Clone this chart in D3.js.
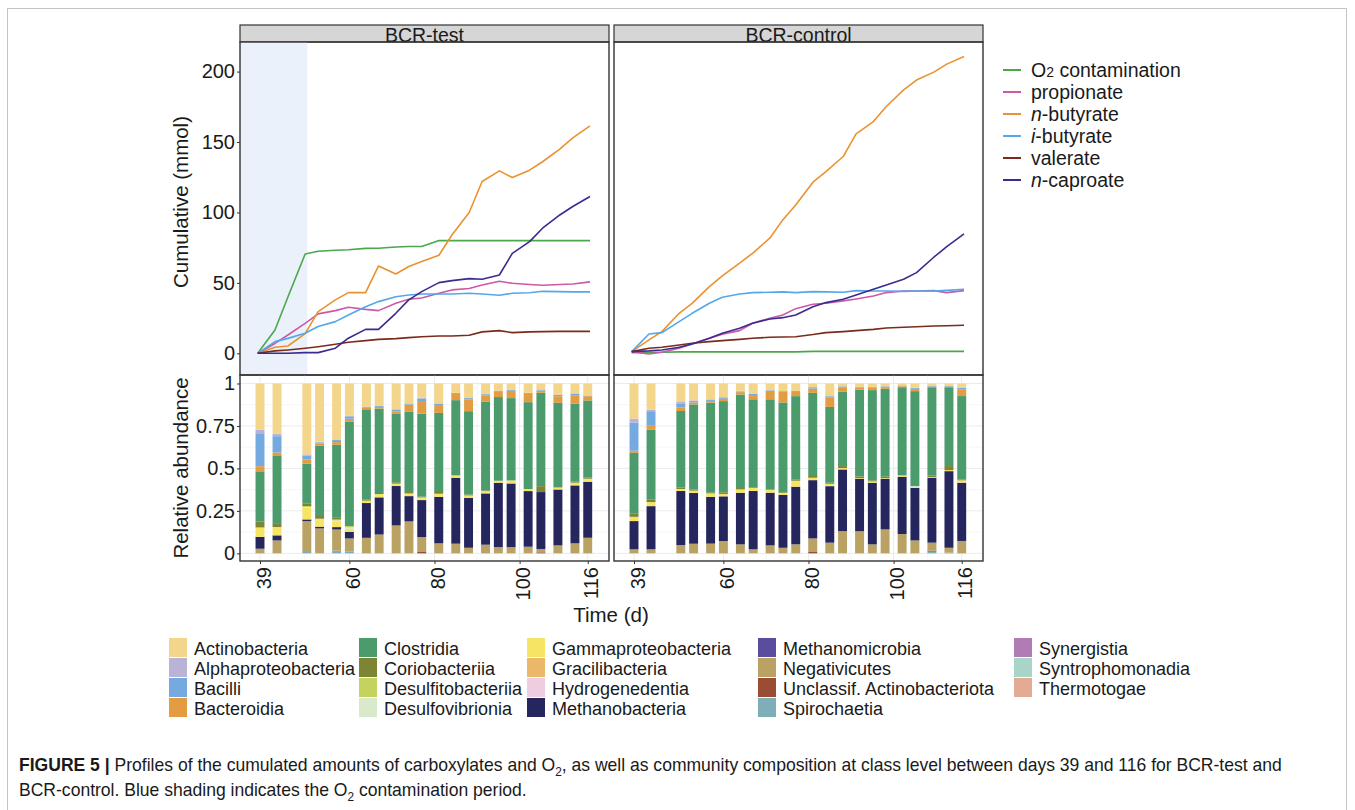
<!DOCTYPE html>
<html>
<head>
<meta charset="utf-8">
<script src="https://cdn.jsdelivr.net/npm/d3@7"></script>
<style>
  body { margin: 0; background: #fff; }
  text { font-family: "Liberation Sans", Arial, sans-serif; fill: #1a1a1a; }
</style>
</head>
<body>
<svg id="chart" width="1355" height="810"></svg>
<script>
// ---- cumulative amounts (mmol), sampled on these days ----
const lineDays = [39, 43, 46, 50, 53, 57, 60, 64, 67, 71, 74, 77, 81, 84, 88, 91, 95, 98, 102, 105, 109, 112, 116];

const o2Test   = [0, 16.6, 40, 70.5, 72.5, 73.2, 73.5, 74.5, 74.6, 75.5, 75.8, 75.8, 80, 80, 80, 80, 80, 80, 80, 80, 80, 80, 80];
const propTest = [0, 7, 13, 21.3, 28, 30.3, 32.7, 31.2, 30.3, 35.5, 38.4, 39.3, 42.6, 45, 46, 48.5, 51.1, 49.7, 48.8, 48.3, 48.8, 49.2, 50.7];
const nbutTest = [0, 4.3, 5.2, 14, 29.6, 37.9, 43.1, 43.1, 62, 56.3, 61.6, 65.1, 69.6, 84, 100, 122, 129.5, 124.8, 130, 136, 145, 153, 161.5];
const ibutTest = [0, 8.3, 10.6, 14.2, 19, 22.5, 27.2, 33, 36.7, 40.2, 41.4, 42.1, 42.1, 42.1, 42.6, 42.1, 41.2, 42.6, 43, 44, 43.8, 43.6, 43.6];
const valTest  = [0, 1.7, 2.4, 3.6, 4.7, 6.4, 7.8, 9, 9.9, 10.4, 11.1, 11.8, 12.3, 12.3, 12.8, 15.2, 16.1, 14.7, 15.2, 15.4, 15.6, 15.6, 15.6];
const capTest  = [0, 0, 0, 0.5, 0.5, 3.6, 10.7, 17, 17, 28.4, 37.9, 43.8, 50.2, 51.6, 53, 52.6, 55.6, 71, 79.3, 88.8, 98.2, 104.2, 111.3];

const o2Ctrl   = [0.5, 0.6, 0.8, 1, 1, 1, 1, 1, 1, 1, 1, 1, 1.4, 1.4, 1.4, 1.4, 1.4, 1.4, 1.4, 1.4, 1.4, 1.4, 1.4];
const propCtrl = [1.2, -0.5, 0.7, 3.6, 6.6, 10.7, 13.5, 16.1, 21.3, 24.9, 27.2, 31.7, 34.8, 35.5, 37.2, 38.6, 40.7, 43.1, 44.2, 44.2, 44.5, 43.1, 44.5];
const nbutCtrl = [1.2, 9.5, 15.4, 28.4, 35.5, 47.3, 55, 64, 71, 81.7, 94.7, 105.3, 121.5, 129, 139.7, 155.8, 164.5, 175.2, 187, 194, 199.6, 205.3, 210.7];
const ibutCtrl = [1.2, 13.7, 14.7, 22.5, 28.4, 35.5, 39.8, 42.1, 43.1, 43.3, 43.6, 43.1, 43.8, 43.6, 43.3, 44.5, 44.2, 44.2, 44, 44.2, 44.2, 44.7, 45.5];
const valCtrl  = [1.2, 3.6, 4.3, 5.9, 7.1, 8.3, 9, 9.9, 10.7, 11.4, 11.6, 11.8, 13.3, 14.7, 15.4, 16.1, 17, 18, 18.5, 18.9, 19.4, 19.6, 19.9];
const capCtrl  = [1.2, 1.7, 2.4, 4.3, 6.6, 10.7, 14.2, 17.8, 21.3, 24.4, 25.3, 27.2, 33.1, 36, 38.4, 41.4, 45.5, 48.5, 52.6, 57.3, 68.2, 75.8, 84.8];

const seriesNames = ['O2 contamination', 'propionate', 'n-butyrate', 'i-butyrate', 'valerate', 'n-caproate'];
const seriesColors = ['#4aa84a', '#cc58aa', '#ea922e', '#52a8ea', '#7b2b1a', '#3b2a8f'];

const o2PeriodEnd = 50.5;

// ---- relative abundance, sampled on these days ----
const barDays = [39, 43, 50, 53, 57, 60, 64, 67, 71, 74, 77, 81, 85, 88, 92, 95, 98, 102, 105, 109, 113, 116];

const classNames = ['Actinobacteria', 'Alphaproteobacteria', 'Bacilli', 'Bacteroidia', 'Clostridia', 'Coriobacteriia',
  'Desulfitobacteriia', 'Desulfovibrionia', 'Gammaproteobacteria', 'Gracilibacteria', 'Hydrogenedentia', 'Methanobacteria',
  'Methanomicrobia', 'Negativicutes', 'Unclassif. Actinobacteriota', 'Spirochaetia', 'Synergistia', 'Syntrophomonadia', 'Thermotogae'];
const classColors = ['#f3d58c', '#b9b3d8', '#74aae0', '#e39c42', '#4b9b6c', '#7d8534',
  '#c3d35e', '#d9e9cb', '#f6e465', '#ebb86a', '#efcde0', '#26265f',
  '#5b4d9d', '#b9a264', '#9b4c35', '#7eafb9', '#b17bb5', '#a9d5c8', '#e3aa94'];

const actinoTest = [0.27, 0.296, 0.418, 0.343, 0.33, 0.19, 0.137, 0.133, 0.152, 0.118, 0.085, 0.118, 0.055, 0.086, 0.063, 0.043, 0.037, 0.055, 0.039, 0.067, 0.059, 0.071];
const alphaTest  = [0.02, 0.014, 0.006, 0.004, 0.004, 0.004, 0, 0, 0.004, 0, 0.004, 0, 0, 0, 0, 0, 0, 0, 0, 0, 0, 0];
const bacilliTest = [0.192, 0.096, 0.023, 0.006, 0.012, 0.014, 0.006, 0.006, 0.01, 0.006, 0.014, 0.009, 0.006, 0.008, 0.006, 0.006, 0.006, 0.006, 0.004, 0.008, 0.01, 0.004];
const bacteroTest = [0.03, 0.021, 0.026, 0.012, 0.016, 0.016, 0.01, 0.01, 0.014, 0.043, 0.075, 0.046, 0.037, 0.069, 0.039, 0.031, 0.043, 0.049, 0.012, 0.039, 0.049, 0.025];
const clostTest  = [0.292, 0.395, 0.233, 0.415, 0.431, 0.617, 0.535, 0.502, 0.404, 0.472, 0.489, 0.46, 0.443, 0.49, 0.521, 0.493, 0.485, 0.512, 0.553, 0.498, 0.46, 0.455];
const corioTest  = [0.035, 0.023, 0.016, 0.016, 0.01, 0, 0.006, 0.006, 0.008, 0.008, 0.004, 0.016, 0, 0.006, 0.004, 0, 0, 0, 0.035, 0, 0.006, 0.006];
const dsfTest    = [0, 0, 0.006, 0.004, 0.005, 0.008, 0, 0, 0, 0, 0.002, 0, 0, 0, 0, 0, 0, 0, 0, 0, 0, 0];
const dsvTest    = [0, 0, 0.004, 0.004, 0.005, 0.008, 0, 0, 0, 0, 0, 0, 0, 0, 0, 0, 0, 0, 0, 0, 0, 0];
const gammaTest  = [0.055, 0.049, 0.069, 0.039, 0.035, 0.018, 0.014, 0.02, 0.014, 0.016, 0.014, 0.018, 0.014, 0.014, 0.014, 0.012, 0.018, 0.012, 0, 0.012, 0.016, 0.018];
const methTest   = [0.069, 0.03, 0.01, 0.01, 0.014, 0.039, 0.206, 0.221, 0.233, 0.149, 0.218, 0.274, 0.388, 0.294, 0.302, 0.379, 0.375, 0.328, 0.337, 0.329, 0.341, 0.33];
const negTest    = [0.027, 0.076, 0.182, 0.147, 0.125, 0.078, 0.092, 0.112, 0.165, 0.188, 0.088, 0.059, 0.057, 0.033, 0.051, 0.037, 0.037, 0.039, 0.02, 0.047, 0.059, 0.092];
const uncTest    = [0, 0, 0, 0, 0, 0, 0, 0, 0, 0, 0.008, 0, 0, 0, 0, 0, 0, 0, 0.006, 0, 0, 0];
const spiroTest  = [0, 0, 0.008, 0, 0.016, 0.01, 0, 0, 0, 0, 0, 0, 0, 0, 0, 0, 0, 0, 0, 0, 0, 0];

const actinoCtrl = [0.207, 0.155, 0.109, 0.1, 0.092, 0.08, 0.043, 0.06, 0.04, 0.045, 0.043, 0.022, 0.075, 0.017, 0.02, 0.021, 0.017, 0.012, 0.025, 0.014, 0.014, 0.025];
const alphaCtrl  = [0.024, 0.008, 0.008, 0.004, 0.004, 0.004, 0.004, 0, 0, 0, 0, 0, 0, 0, 0, 0, 0, 0, 0, 0, 0, 0];
const bacilliCtrl = [0.165, 0.086, 0.025, 0.008, 0.006, 0.006, 0.004, 0.008, 0.004, 0.004, 0.006, 0.008, 0.006, 0.008, 0.004, 0.004, 0.004, 0.004, 0.006, 0.004, 0.004, 0.01];
const bacteroCtrl = [0.012, 0.022, 0.02, 0.012, 0.01, 0.014, 0.014, 0.025, 0.049, 0.063, 0.025, 0.025, 0.057, 0.022, 0.012, 0.014, 0.01, 0.006, 0.014, 0.004, 0.004, 0.039];
const clostCtrl  = [0.359, 0.411, 0.451, 0.504, 0.525, 0.539, 0.551, 0.518, 0.528, 0.531, 0.489, 0.484, 0.447, 0.439, 0.514, 0.532, 0.518, 0.519, 0.559, 0.519, 0.464, 0.492];
const corioCtrl  = [0.018, 0.016, 0.008, 0.006, 0.006, 0.01, 0.008, 0.004, 0.004, 0.004, 0.006, 0.016, 0.006, 0.012, 0.01, 0.006, 0.008, 0, 0, 0.01, 0.024, 0.004];
const dsvCtrl    = [0, 0, 0, 0, 0, 0, 0, 0, 0, 0, 0, 0, 0, 0, 0, 0, 0, 0, 0.01, 0, 0, 0];
const gammaCtrl  = [0.025, 0.024, 0.012, 0.014, 0.02, 0.014, 0.02, 0.018, 0.018, 0.012, 0.035, 0.014, 0.014, 0.008, 0.004, 0.008, 0.004, 0.008, 0, 0.004, 0.006, 0.014];
const methCtrl   = [0.166, 0.254, 0.318, 0.3, 0.274, 0.264, 0.304, 0.343, 0.31, 0.312, 0.337, 0.343, 0.333, 0.363, 0.31, 0.363, 0.298, 0.337, 0.31, 0.382, 0.451, 0.343];
const negCtrl    = [0.024, 0.024, 0.049, 0.057, 0.057, 0.073, 0.053, 0.024, 0.047, 0.033, 0.053, 0.08, 0.063, 0.131, 0.131, 0.053, 0.141, 0.114, 0.076, 0.047, 0.029, 0.073];
const uncCtrl    = [0, 0, 0, 0, 0, 0, 0, 0, 0, 0, 0, 0.008, 0, 0, 0, 0, 0, 0, 0, 0.006, 0, 0];
const spiroCtrl  = [0, 0, 0, 0, 0, 0, 0, 0, 0, 0, 0, 0, 0, 0, 0, 0, 0, 0, 0, 0.01, 0.004, 0];

const xTicks = [39, 60, 80, 100, 116];
const yTicksTop = [0, 50, 100, 150, 200];
const yTicksBar = [0, 0.25, 0.5, 0.75, 1];

// ---- build tables ----
const testSeries = [o2Test, propTest, nbutTest, ibutTest, valTest, capTest];
const ctrlSeries = [o2Ctrl, propCtrl, nbutCtrl, ibutCtrl, valCtrl, capCtrl];

const testClasses = {
  'Actinobacteria': actinoTest, 'Alphaproteobacteria': alphaTest, 'Bacilli': bacilliTest, 'Bacteroidia': bacteroTest,
  'Clostridia': clostTest, 'Coriobacteriia': corioTest, 'Desulfitobacteriia': dsfTest, 'Desulfovibrionia': dsvTest,
  'Gammaproteobacteria': gammaTest, 'Methanobacteria': methTest, 'Negativicutes': negTest,
  'Unclassif. Actinobacteriota': uncTest, 'Spirochaetia': spiroTest
};
const ctrlClasses = {
  'Actinobacteria': actinoCtrl, 'Alphaproteobacteria': alphaCtrl, 'Bacilli': bacilliCtrl, 'Bacteroidia': bacteroCtrl,
  'Clostridia': clostCtrl, 'Coriobacteriia': corioCtrl, 'Desulfovibrionia': dsvCtrl,
  'Gammaproteobacteria': gammaCtrl, 'Methanobacteria': methCtrl, 'Negativicutes': negCtrl,
  'Unclassif. Actinobacteriota': uncCtrl, 'Spirochaetia': spiroCtrl
};

const classColor = d3.scaleOrdinal().domain(classNames).range(classColors);

const svg = d3.select('#chart');

// outer frame
svg.append('rect')
  .attr('x', 7.5).attr('y', 8.5)
  .attr('width', 1339).attr('height', 830)
  .attr('fill', 'none').attr('stroke', '#c4c4c4');

const stripTop = 25, stripBottom = 42, topBottom = 375, barBottom = 561;

const yTop = d3.scaleLinear().domain([-15.4, 221]).range([topBottom, stripBottom]);
const yBar = d3.scaleLinear().domain([-0.045, 1.05]).range([barBottom, topBottom]);

const panels = [
  { name: 'BCR-test', x0: 240, x1: 609, series: testSeries, classes: testClasses, shade: true },
  { name: 'BCR-control', x0: 614, x1: 983, series: ctrlSeries, classes: ctrlClasses, shade: false }
];

panels.forEach((p, pi) => {
  const xTop = d3.scaleLinear().domain([34.9, 120.4]).range([p.x0, p.x1]);
  const xBar = d3.scaleLinear().domain([34.3, 121]).range([p.x0, p.x1]);

  // strip
  svg.append('rect')
    .attr('x', p.x0).attr('y', stripTop)
    .attr('width', p.x1 - p.x0).attr('height', stripBottom - stripTop)
    .attr('fill', '#d6d6d6').attr('stroke', '#333').attr('stroke-width', 1.2);
  svg.append('text')
    .attr('x', (p.x0 + p.x1) / 2).attr('y', 41.5)
    .attr('text-anchor', 'middle')
    .attr('font-size', 19.5)
    .text(p.name);

  // ---- top panel: cumulative lines ----
  const clipId = 'clip' + pi;
  svg.append('clipPath').attr('id', clipId)
    .append('rect')
    .attr('x', p.x0).attr('y', stripBottom)
    .attr('width', p.x1 - p.x0).attr('height', topBottom - stripBottom);

  const top = svg.append('g').attr('clip-path', `url(#${clipId})`);

  if (p.shade) {
    top.append('rect')
      .attr('x', p.x0).attr('y', stripBottom)
      .attr('width', xTop(o2PeriodEnd) - p.x0)
      .attr('height', topBottom - stripBottom)
      .attr('fill', '#eaf1fb');
  }

  const line = d3.line()
    .x((d, i) => xTop(lineDays[i]))
    .y(d => yTop(d));

  top.selectAll('path.series')
    .data(p.series)
    .join('path')
    .attr('class', 'series')
    .attr('d', d => line(d))
    .attr('fill', 'none')
    .attr('stroke', (d, i) => seriesColors[i])
    .attr('stroke-width', 1.6)
    .attr('stroke-linejoin', 'round');

  svg.append('rect')
    .attr('x', p.x0).attr('y', stripBottom)
    .attr('width', p.x1 - p.x0).attr('height', topBottom - stripBottom)
    .attr('fill', 'none').attr('stroke', '#333').attr('stroke-width', 1.4);

  // ---- bottom panel: stacked bars ----
  const bottom = svg.append('g');

  const grid = bottom.append('g');
  const minorY = [0.125, 0.375, 0.625, 0.875];
  const minorX = [49.5, 70, 90, 108];
  grid.selectAll('line.my').data(minorY).join('line')
    .attr('x1', p.x0).attr('x2', p.x1)
    .attr('y1', d => yBar(d)).attr('y2', d => yBar(d))
    .attr('stroke', '#f4f4f4').attr('stroke-width', 0.8);
  grid.selectAll('line.mx').data(minorX).join('line')
    .attr('y1', topBottom).attr('y2', barBottom)
    .attr('x1', d => xBar(d)).attr('x2', d => xBar(d))
    .attr('stroke', '#f4f4f4').attr('stroke-width', 0.8);
  grid.selectAll('line.gy').data(yTicksBar).join('line')
    .attr('x1', p.x0).attr('x2', p.x1)
    .attr('y1', d => yBar(d)).attr('y2', d => yBar(d))
    .attr('stroke', '#ebebeb').attr('stroke-width', 1);
  grid.selectAll('line.gx').data(xTicks).join('line')
    .attr('y1', topBottom).attr('y2', barBottom)
    .attr('x1', d => xBar(d)).attr('x2', d => xBar(d))
    .attr('stroke', '#ebebeb').attr('stroke-width', 1);

  const keys = classNames.filter(c => p.classes[c]).reverse();
  const rows = barDays.map((day, i) => {
    const r = { day };
    keys.forEach(k => { r[k] = p.classes[k][i]; });
    return r;
  });
  const stack = d3.stack().keys(keys).offset(d3.stackOffsetExpand);
  const layers = stack(rows);
  const bw = 2.1 * (xBar(1) - xBar(0));

  bottom.selectAll('g.layer')
    .data(layers)
    .join('g')
    .attr('class', 'layer')
    .attr('fill', d => classColor(d.key))
    .selectAll('rect')
    .data(d => d)
    .join('rect')
    .attr('x', d => xBar(d.data.day) - bw / 2)
    .attr('width', bw)
    .attr('y', d => yBar(d[1]))
    .attr('height', d => Math.max(0, yBar(d[0]) - yBar(d[1])));

  svg.append('rect')
    .attr('x', p.x0).attr('y', topBottom)
    .attr('width', p.x1 - p.x0).attr('height', barBottom - topBottom)
    .attr('fill', 'none').attr('stroke', '#333').attr('stroke-width', 1.4);

  // x axis
  const xAxis = svg.append('g')
    .attr('transform', `translate(0, ${barBottom})`)
    .call(d3.axisBottom(xBar).tickValues(xTicks).tickSize(3).tickFormat(d3.format('d')));
  xAxis.select('.domain').remove();
  xAxis.selectAll('line').attr('stroke', '#333');
  xAxis.selectAll('text')
    .attr('transform', 'rotate(-90)')
    .attr('x', -6).attr('y', 3).attr('dy', '0.35em')
    .attr('text-anchor', 'end')
    .attr('font-size', 20)
    .attr('font-family', '"Liberation Sans", Arial, sans-serif')
    .attr('fill', '#1a1a1a');

  // y axes (left panel only)
  if (pi === 0) {
    const ya = svg.append('g')
      .attr('transform', `translate(${p.x0}, 0)`)
      .call(d3.axisLeft(yTop).tickValues(yTicksTop).tickSize(3).tickPadding(2));
    const yb = svg.append('g')
      .attr('transform', `translate(${p.x0}, 0)`)
      .call(d3.axisLeft(yBar).tickValues(yTicksBar).tickSize(3).tickPadding(2).tickFormat(d => String(d)));
    [ya, yb].forEach(g => {
      g.select('.domain').remove();
      g.selectAll('line').attr('stroke', '#333');
      g.selectAll('text')
        .attr('font-size', 20)
        .attr('font-family', '"Liberation Sans", Arial, sans-serif')
        .attr('fill', '#1a1a1a');
    });
  }
});

// axis titles
svg.append('text')
  .attr('transform', 'translate(188, 202) rotate(-90)')
  .attr('text-anchor', 'middle')
  .attr('font-size', 20.5)
  .text('Cumulative (mmol)');
svg.append('text')
  .attr('transform', 'translate(188, 468) rotate(-90)')
  .attr('text-anchor', 'middle')
  .attr('font-size', 20.5)
  .text('Relative abundance');
svg.append('text')
  .attr('x', 611).attr('y', 622)
  .attr('text-anchor', 'middle')
  .attr('font-size', 20.5)
  .text('Time (d)');

// ---- line legend ----
const lineLegend = svg.append('g');
seriesNames.forEach((name, i) => {
  const y = 70 + i * 22;
  lineLegend.append('line')
    .attr('x1', 1003).attr('x2', 1021)
    .attr('y1', y).attr('y2', y)
    .attr('stroke', seriesColors[i]).attr('stroke-width', 2);
  const t = lineLegend.append('text')
    .attr('x', 1031).attr('y', y)
    .attr('dy', '0.36em')
    .attr('font-size', 19.5);
  if (name.startsWith('O2')) {
    t.append('tspan').text('O');
    t.append('tspan').attr('font-size', 14).text('2');
    t.append('tspan').text(' contamination');
  } else if (name[1] === '-') {
    t.append('tspan').attr('font-style', 'italic').text(name[0]);
    t.append('tspan').text(name.slice(1));
  } else {
    t.text(name);
  }
});

// ---- class legend ----
const colX = [169, 359, 527, 758, 1014];
const classLegend = svg.append('g');
classNames.forEach((name, i) => {
  const col = Math.floor(i / 4);
  const row = i % 4;
  const y = 638 + row * 20;
  classLegend.append('rect')
    .attr('x', colX[col]).attr('y', y)
    .attr('width', 18).attr('height', 19)
    .attr('fill', classColor(name));
  classLegend.append('text')
    .attr('x', colX[col] + 25).attr('y', y + 10.5)
    .attr('dy', '0.36em')
    .attr('font-size', 18)
    .text(name);
});

// ---- caption (condensed look: larger type squeezed horizontally) ----
const capFont = '"Liberation Sans", Arial, sans-serif';
const cap1 = svg.append('text')
  .attr('font-size', 18.5)
  .attr('font-family', capFont);
cap1.append('tspan').attr('font-weight', 'bold').text('FIGURE 5');
cap1.append('tspan').attr('font-weight', 'bold').text(' | ');
cap1.append('tspan').text('Profiles of the cumulated amounts of carboxylates and O');
cap1.append('tspan').attr('font-size', 12.5).attr('dy', 4.5).text('2');
cap1.append('tspan').attr('dy', -4.5).text(', as well as community composition at class level between days 39 and 116 for BCR-test and');

const cap2 = svg.append('text')
  .attr('font-size', 18.5)
  .attr('font-family', capFont);
cap2.append('tspan').text('BCR-control. Blue shading indicates the O');
cap2.append('tspan').attr('font-size', 12.5).attr('dy', 4.5).text('2');
cap2.append('tspan').attr('dy', -4.5).text(' contamination period.');

const w1 = cap1.node().getComputedTextLength();
const sx = 1264 / w1;
cap1.attr('transform', `translate(19, 771) scale(${sx}, 1)`);
cap2.attr('transform', `translate(19, 796) scale(${sx}, 1)`);
</script>
</body>
</html>
